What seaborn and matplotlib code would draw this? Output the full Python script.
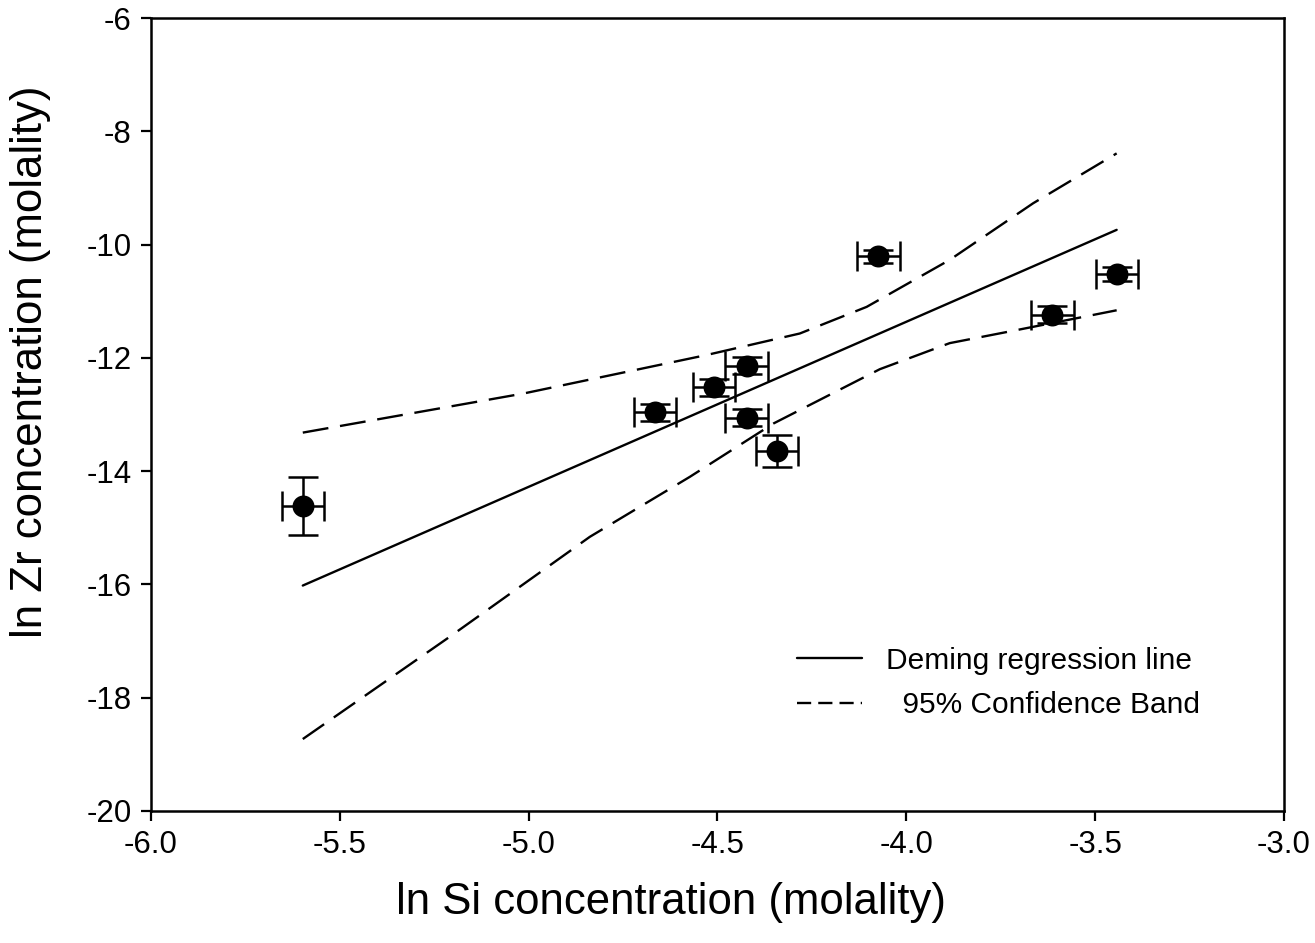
import numpy as np
import pandas as pd
import seaborn as sns
import matplotlib
matplotlib.use("Agg")
import matplotlib.pyplot as plt

# data
ln_si = [-5.598, -4.666, -4.509, -4.423, -4.423, -4.342, -4.074, -3.613, -3.443]
ln_zr = [-14.62, -12.96, -12.52, -12.14, -13.06, -13.64, -10.21, -11.24, -10.52]
si_err = [0.055, 0.056, 0.055, 0.056, 0.056, 0.056, 0.057, 0.057, 0.056]
zr_err = [0.51, 0.15, 0.15, 0.15, 0.15, 0.28, 0.12, 0.15, 0.12]

fit_x = [-5.598, -3.443]
fit_y = [-16.02, -9.74]

upper_x = [-5.598, -5.014, -4.529, -4.282, -4.105, -3.885, -3.664, -3.443]
upper_y = [-13.32, -12.63, -11.95, -11.57, -11.10, -10.27, -9.27, -8.39]
lower_x = [-5.598, -5.208, -4.838, -4.573, -4.352, -4.070, -3.885, -3.708, -3.443]
lower_y = [-18.73, -16.92, -15.16, -14.10, -13.16, -12.20, -11.74, -11.51, -11.16]

x_ticks = [-6.0, -5.5, -5.0, -4.5, -4.0, -3.5, -3.0]
y_ticks = [-20, -18, -16, -14, -12, -10, -8, -6]

sns.set_style("ticks")
plt.rcParams['font.family'] = ['Liberation Sans', 'DejaVu Sans']
plt.rcParams['text.color'] = 'black'
plt.rcParams['axes.labelcolor'] = 'black'

df_pts = pd.DataFrame({'si': ln_si, 'zr': ln_zr})
df_fit = pd.DataFrame({'si': fit_x, 'zr': fit_y})
df_up = pd.DataFrame({'si': upper_x, 'zr': upper_y})
df_lo = pd.DataFrame({'si': lower_x, 'zr': lower_y})

fig, ax = plt.subplots(figsize=(13.15, 9.43), dpi=100)
fig.subplots_adjust(left=0.1148, right=0.9764, bottom=0.140, top=0.9809)

# regression line and confidence band
sns.lineplot(ax=ax, data=df_fit, x='si', y='zr', color='black', linewidth=1.7,
             estimator=None, sort=False, label='Deming regression line')
sns.lineplot(ax=ax, data=df_up, x='si', y='zr', color='black', linewidth=1.7,
             estimator=None, sort=False, label='  95% Confidence Band')
sns.lineplot(ax=ax, data=df_lo, x='si', y='zr', color='black', linewidth=1.7,
             estimator=None, sort=False, legend=False)
for ln in ax.lines[1:3]:
    ln.set_dashes((11, 5))

# error bars + points
ax.errorbar(ln_si, ln_zr, xerr=si_err, yerr=zr_err, fmt='none', ecolor='black',
            elinewidth=1.8, capsize=11, capthick=1.8, zorder=3)
sns.scatterplot(ax=ax, data=df_pts, x='si', y='zr', color='black', s=250,
                edgecolor='black', linewidth=0, zorder=4)

ax.set_xlim(-6.0, -3.0)
ax.set_ylim(-20, -6)
ax.set_xticks(x_ticks)
ax.set_xticklabels([f"{v:.1f}" for v in x_ticks])
ax.set_yticks(y_ticks)
ax.set_yticklabels([str(v) for v in y_ticks])
ax.tick_params(direction='out', length=7, width=1.6, labelsize=22.5, pad=7,
               colors='black')
for sp in ax.spines.values():
    sp.set_visible(True)
    sp.set_linewidth(1.8)
    sp.set_color('black')

ax.set_xlabel('ln Si concentration (molality)', fontsize=31.5)
ax.set_ylabel('ln Zr concentration (molality)', fontsize=31.5)
ax.xaxis.set_label_coords(0.459, -0.090)
ax.yaxis.set_label_coords(-0.088, 0.566)

leg = ax.legend(loc='upper left', bbox_to_anchor=(0.570, 0.207), frameon=False,
                fontsize=21.5, handlelength=2.2, handletextpad=0.8,
                borderpad=0, borderaxespad=0, labelspacing=0.55)
leg.get_lines()[1].set_dashes((6, 3))

fig.savefig('out.png', dpi=100)
